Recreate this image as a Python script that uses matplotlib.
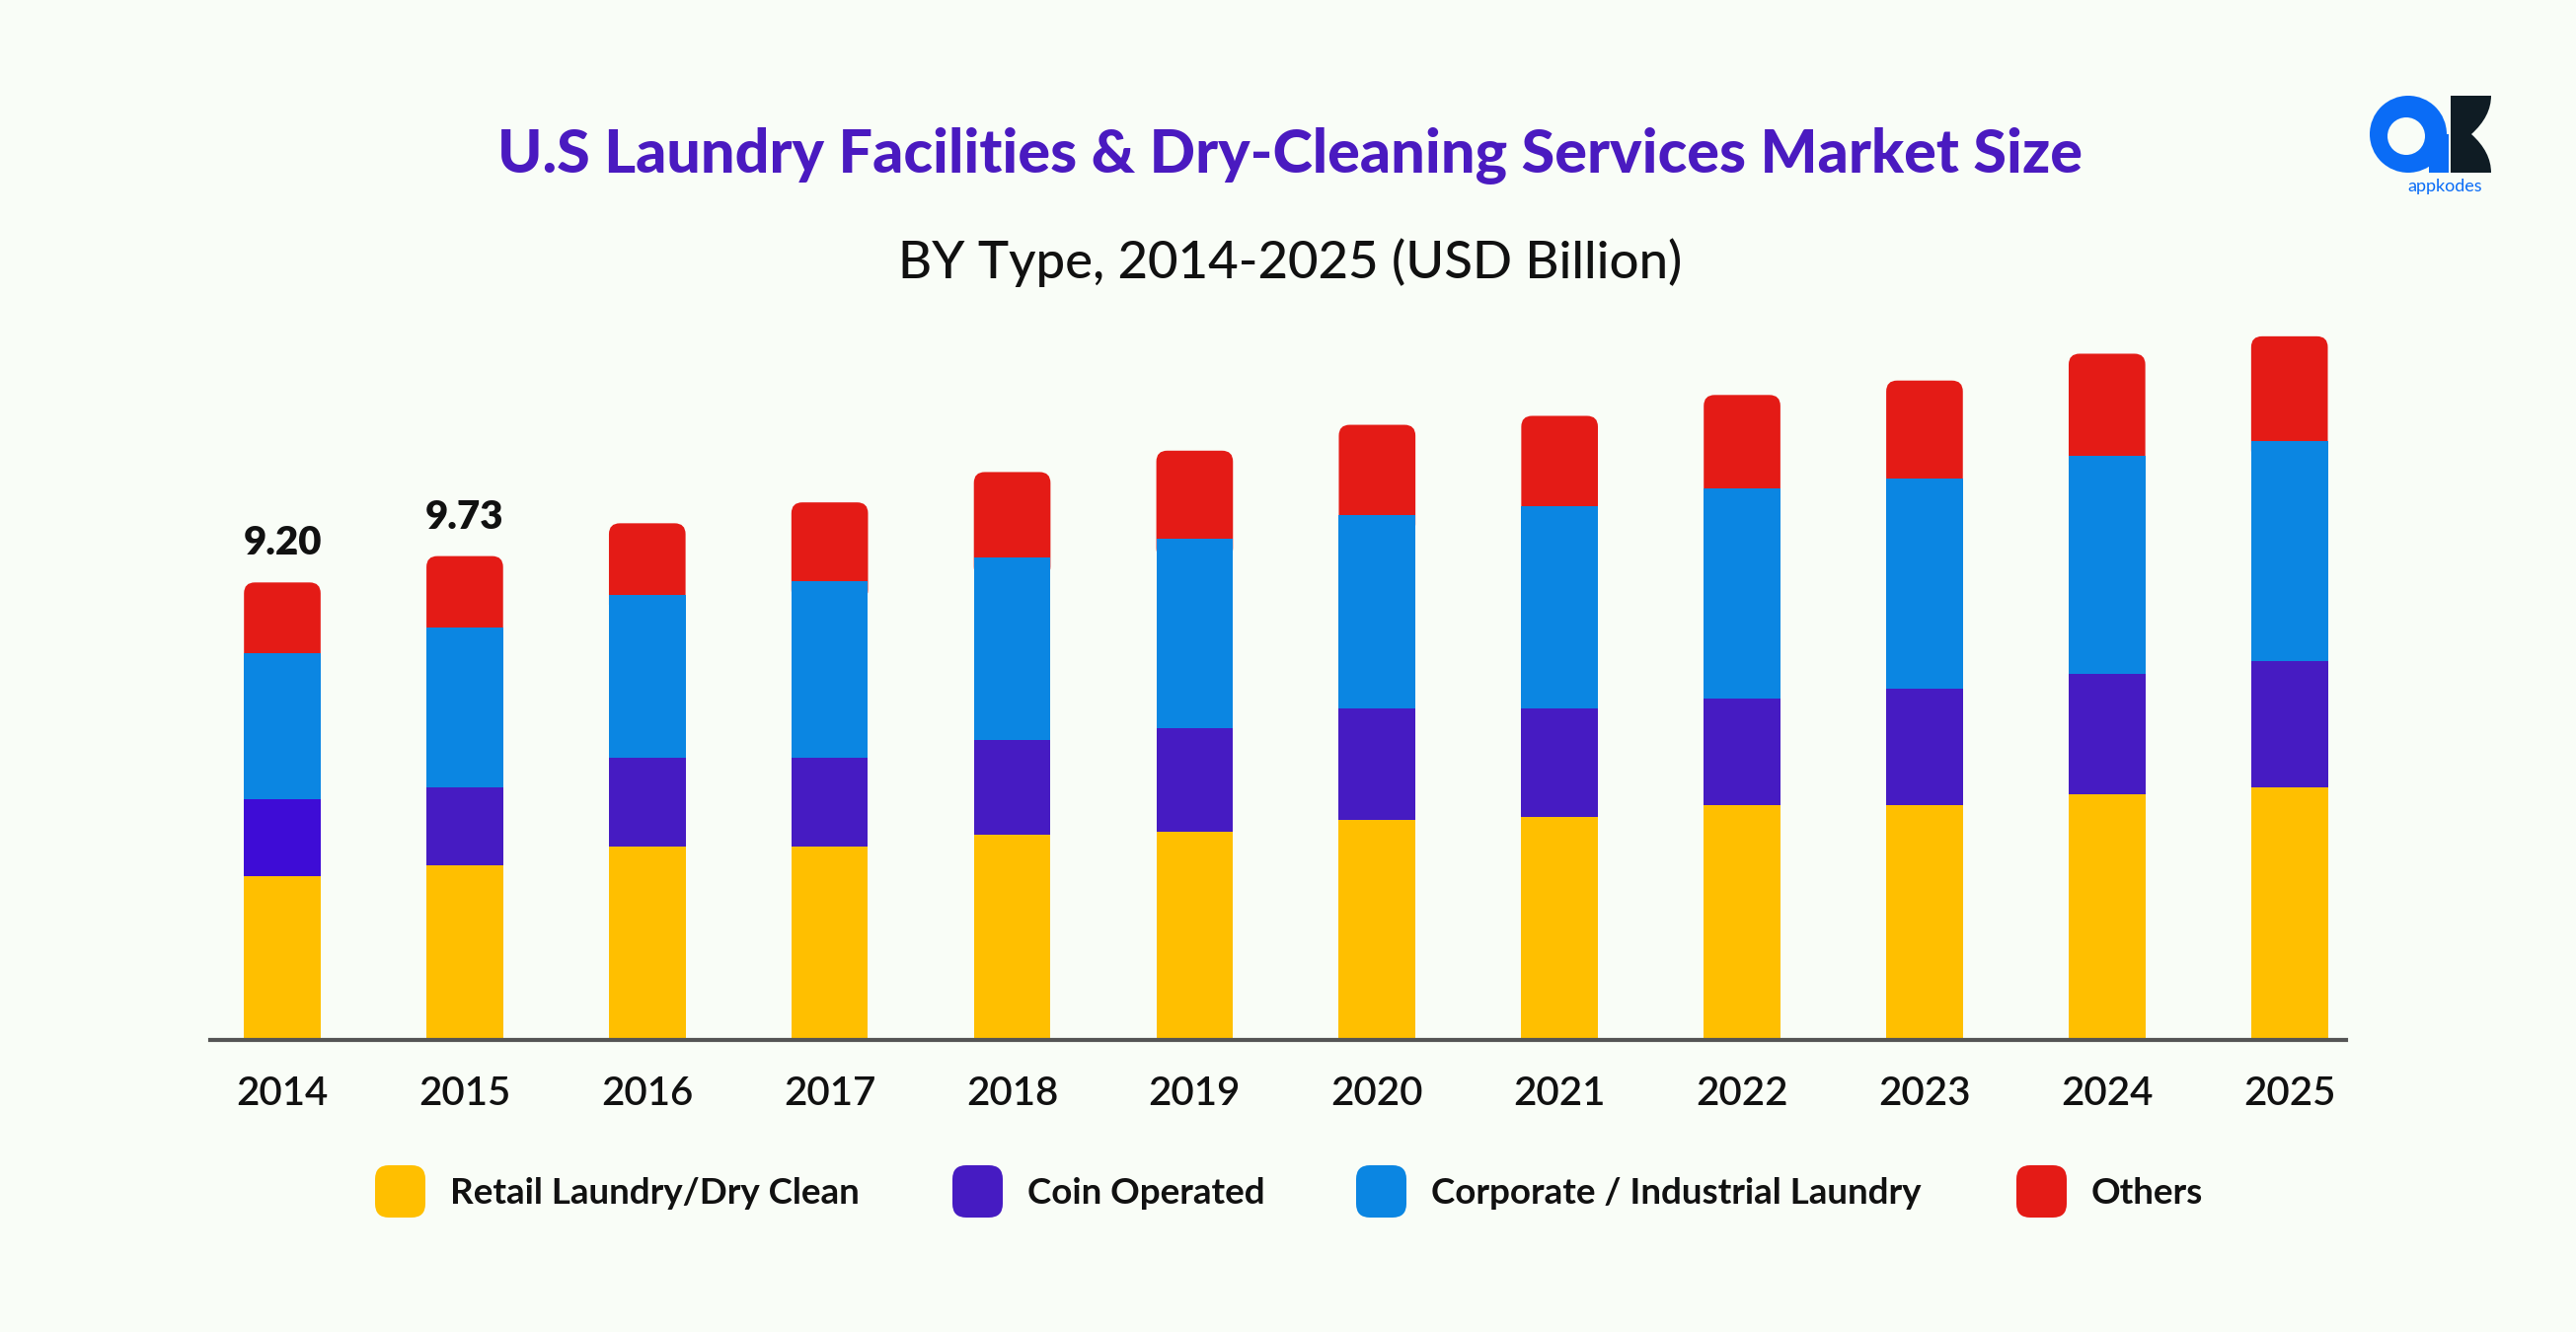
import numpy as np
import matplotlib.pyplot as plt
from matplotlib.patches import FancyBboxPatch, Circle, Rectangle, PathPatch
from matplotlib.path import Path

years = ['2014', '2015', '2016', '2017', '2018', '2019',
         '2020', '2021', '2022', '2023', '2024', '2025']
retail = [3.30, 3.52, 3.89, 3.89, 4.13, 4.19, 4.42, 4.49, 4.72, 4.72, 4.95, 5.08]
coin = [1.54, 1.55, 1.78, 1.78, 1.91, 2.08, 2.24, 2.18, 2.15, 2.34, 2.41, 2.54]
corporate = [2.94, 3.22, 3.27, 3.56, 3.66, 3.80, 3.89, 4.06, 4.22, 4.22, 4.39, 4.42]
others = [1.42, 1.44, 1.45, 1.58, 1.72, 1.78, 1.82, 1.82, 1.88, 1.98, 2.05, 2.11]
total_labels = ['9.20', '9.73']
series_names = ['Retail Laundry/Dry Clean', 'Coin Operated',
                'Corporate / Industrial Laundry', 'Others']

bg = '#f9fdf7'
c_yellow = '#ffbf00'
c_purple = '#461bc2'
c_blue = '#0b86e2'
c_red = '#e41b16'
purple_cols = ['#3e0cd6'] + [c_purple] * 11

plt.rcParams['font.family'] = ['Lato', 'DejaVu Sans']

W, H = 2610, 1350
fig = plt.figure(figsize=(W / 100, H / 100), dpi=100, facecolor=bg)

# main axes, placed in pixel terms
left, right, base, top_ = 213, 2377, 1054, 298
ax = fig.add_axes([left / W, 1 - base / H, (right - left) / W, (base - top_) / H])
ax.set_facecolor('none')
x = np.arange(len(years))
xlo, xhi = -0.395, 11.31
ymax = 15
ax.set_xlim(xlo, xhi)
ax.set_ylim(0, ymax)
bw = 0.42

b0 = np.zeros(len(years))
ax.bar(x, retail, bw, bottom=b0, color=c_yellow, zorder=3)
b1 = b0 + np.array(retail)
ax.bar(x, coin, bw, bottom=b1, color=purple_cols, zorder=3)
b2 = b1 + np.array(coin)
ax.bar(x, corporate, bw, bottom=b2, color=c_blue, zorder=3)
b3 = b2 + np.array(corporate)

# top segment with rounded top corners
px_x = (right - left) / (xhi - xlo)
px_y = (base - top_) / ymax
rad = 11 / px_x
for xi, bot, h in zip(x, b3, others):
    ext = 0.4
    p = FancyBboxPatch((xi - bw / 2, bot - ext), bw, h + ext,
                       boxstyle='round,pad=0,rounding_size=%f' % rad,
                       mutation_aspect=px_x / px_y,
                       fc=c_red, ec='none', zorder=2)
    ax.add_patch(p)

totals = b3 + np.array(others)
for i, lab in enumerate(total_labels):
    ax.annotate(lab, (x[i], totals[i]), xytext=(0, 15), textcoords='offset points',
                ha='center', va='bottom', fontsize=29, fontweight='heavy', color='#111111')

for s in ['top', 'right', 'left']:
    ax.spines[s].set_visible(False)
ax.spines['bottom'].set_color('#555555')
ax.spines['bottom'].set_linewidth(3)
ax.spines['bottom'].set_zorder(4)
ax.set_yticks([])
ax.set_xticks(x, years)
ax.tick_params(axis='x', length=0, pad=26, labelsize=29, labelcolor='#111111')
for t in ax.get_xticklabels():
    t.set_fontweight('semibold')

# overlay in pixel coordinates for titles, legend and logo
ov = fig.add_axes([0, 0, 1, 1], zorder=-1)
ov.set_xlim(0, W)
ov.set_ylim(H, 0)
ov.axis('off')

ov.text(1307, 158, 'U.S Laundry Facilities & Dry-Cleaning Services Market Size',
        ha='center', va='center', fontsize=44, fontweight='black', color='#4a1ac0')
ov.text(1307, 266, 'BY Type, 2014-2025 (USD Billion)',
        ha='center', va='center', fontsize=38, fontweight='medium', color='#111111')

leg_cols = [c_yellow, c_purple, c_blue, c_red]
leg_x = [380, 965, 1374, 2043]
for lx, col, name in zip(leg_x, leg_cols, series_names):
    ov.add_patch(FancyBboxPatch((lx, 1181), 51, 53,
                                boxstyle='round,pad=0,rounding_size=14',
                                fc=col, ec='none'))
    ov.text(lx + 76, 1209, name, ha='left', va='center', fontsize=26.5,
            fontweight='bold', color='#111111')

# logo
ov.add_patch(Circle((2440, 136), 39, fc='#0a6cf6', ec='none'))
ov.add_patch(Rectangle((2461, 136), 20, 39, fc='#0a6cf6', ec='none'))
ov.add_patch(Circle((2438, 138), 19, fc=bg, ec='none'))
ov.add_patch(Rectangle((2483, 97), 20, 78, fc='#0f1c24', ec='none'))
verts = [(2503, 97), (2524, 97), (2524, 118), (2504, 136),
         (2524, 154), (2524, 175), (2503, 175), (2503, 97)]
codes = [Path.MOVETO, Path.LINETO, Path.CURVE3, Path.CURVE3,
         Path.CURVE3, Path.CURVE3, Path.LINETO, Path.CLOSEPOLY]
ov.add_patch(PathPatch(Path(verts, codes), fc='#0f1c24', ec='none'))
ov.text(2477, 189, 'appkodes', ha='center', va='center', fontsize=13, color='#0a6cf6')

fig.savefig('out.png', dpi=100, facecolor=bg)
